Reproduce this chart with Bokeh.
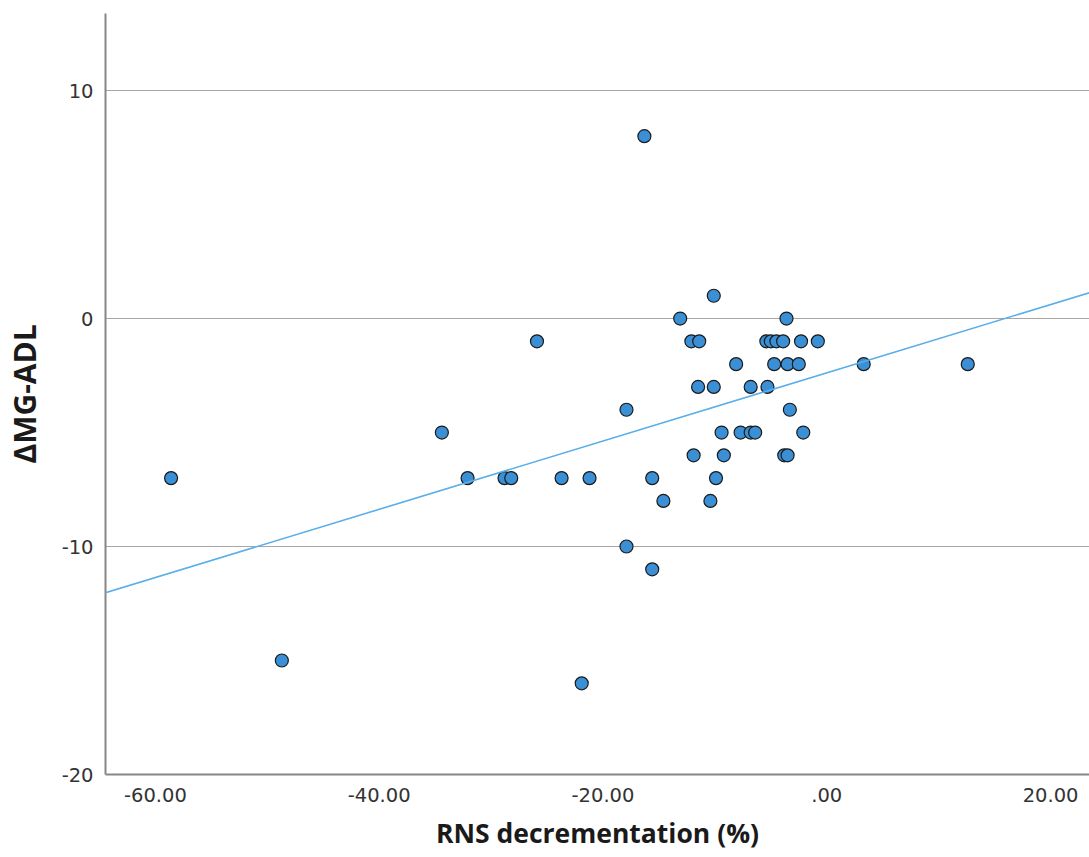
from bokeh.plotting import figure
from bokeh.models import Range1d, Slope, FixedTicker
from bokeh.embed import file_html
from bokeh.resources import INLINE

# RNS decrementation (%) and change in MG-ADL
rns = [-16.3, -10.1, -13.1, -12.1, -11.4, -8.1, -11.5, -10.1, -6.8,
       -3.6, -5.4, -5.0, -4.5, -3.9, -2.3, -0.8,
       -4.7, -3.5, -2.5, 3.3, -5.3,
       -25.9, -58.6, -48.7, -34.4, -32.1, -28.8, -28.2, -23.7, -21.2,
       -17.9, -17.9, -15.6, -14.6, -15.6, -21.9,
       -11.9, -9.4, -9.2, -9.9, -10.4, -7.7, -6.8, -6.4,
       -3.3, -2.1, -3.8, -3.5, 12.6]
mgadl = [8, 1, 0, -1, -1, -2, -3, -3, -3,
         0, -1, -1, -1, -1, -1, -1,
         -2, -2, -2, -2, -3,
         -1, -7, -15, -5, -7, -7, -7, -7, -7,
         -4, -10, -7, -8, -11, -16,
         -6, -5, -6, -7, -8, -5, -5, -5,
         -4, -5, -6, -6, -2]

# fit line
fit_slope = 0.1497
fit_intercept = -2.38

x_ticks = [-60, -40, -20, 0, 20]
x_tick_labels = ["-60.00", "-40.00", "-20.00", ".00", "20.00"]
y_ticks = [-20, -10, 0, 10]
y_tick_labels = ["-20", "-10", "0", "10"]

p = figure(width=1089, height=857, output_backend="svg", toolbar_location=None,
           x_range=Range1d(-64.46, 23.48), y_range=Range1d(-20, 13.38),
           min_border_left=103, min_border_right=0, min_border_top=13,
           min_border_bottom=83)
p.outline_line_color = None
p.background_fill_color = "white"

p.xgrid.grid_line_color = None
p.ygrid.grid_line_color = "#aba5a5"
p.ygrid.grid_line_width = 1.2

p.xaxis.ticker = FixedTicker(ticks=x_ticks)
p.yaxis.ticker = FixedTicker(ticks=y_ticks)
p.xaxis.major_label_overrides = {t: l for t, l in zip(x_ticks, x_tick_labels)}
p.yaxis.major_label_overrides = {t: l for t, l in zip(y_ticks, y_tick_labels)}

for ax in (p.xaxis, p.yaxis):
    ax.axis_line_color = "#8a8585"
    ax.axis_line_width = 2
    ax.major_tick_line_color = None
    ax.minor_tick_line_color = None
    ax.major_label_text_font = "DejaVu Sans"
    ax.major_label_text_font_size = "19.5px"
    ax.major_label_text_color = "#333333"
    ax.axis_label_text_font = "Open Sans"
    ax.axis_label_text_font_style = "bold"
    ax.axis_label_text_color = "#1a1a1a"

p.xaxis.axis_label = "RNS decrementation (%)"
p.yaxis.axis_label = "ΔMG-ADL"
p.xaxis.axis_label_text_font_size = "26.5px"
p.yaxis.axis_label_text_font_size = "30px"
p.xaxis.major_label_standoff = 7
p.xaxis.axis_label_standoff = 10
p.yaxis.major_label_standoff = 6
p.yaxis.axis_label_standoff = 14

p.add_layout(Slope(gradient=fit_slope, y_intercept=fit_intercept,
                   line_color="#5aaeea", line_width=1.6))

p.scatter(rns, mgadl, size=13, fill_color="#3a8fd5", line_color="#1a1a1a",
          line_width=1.2)

open("out.html", "w").write(file_html(p, INLINE))
